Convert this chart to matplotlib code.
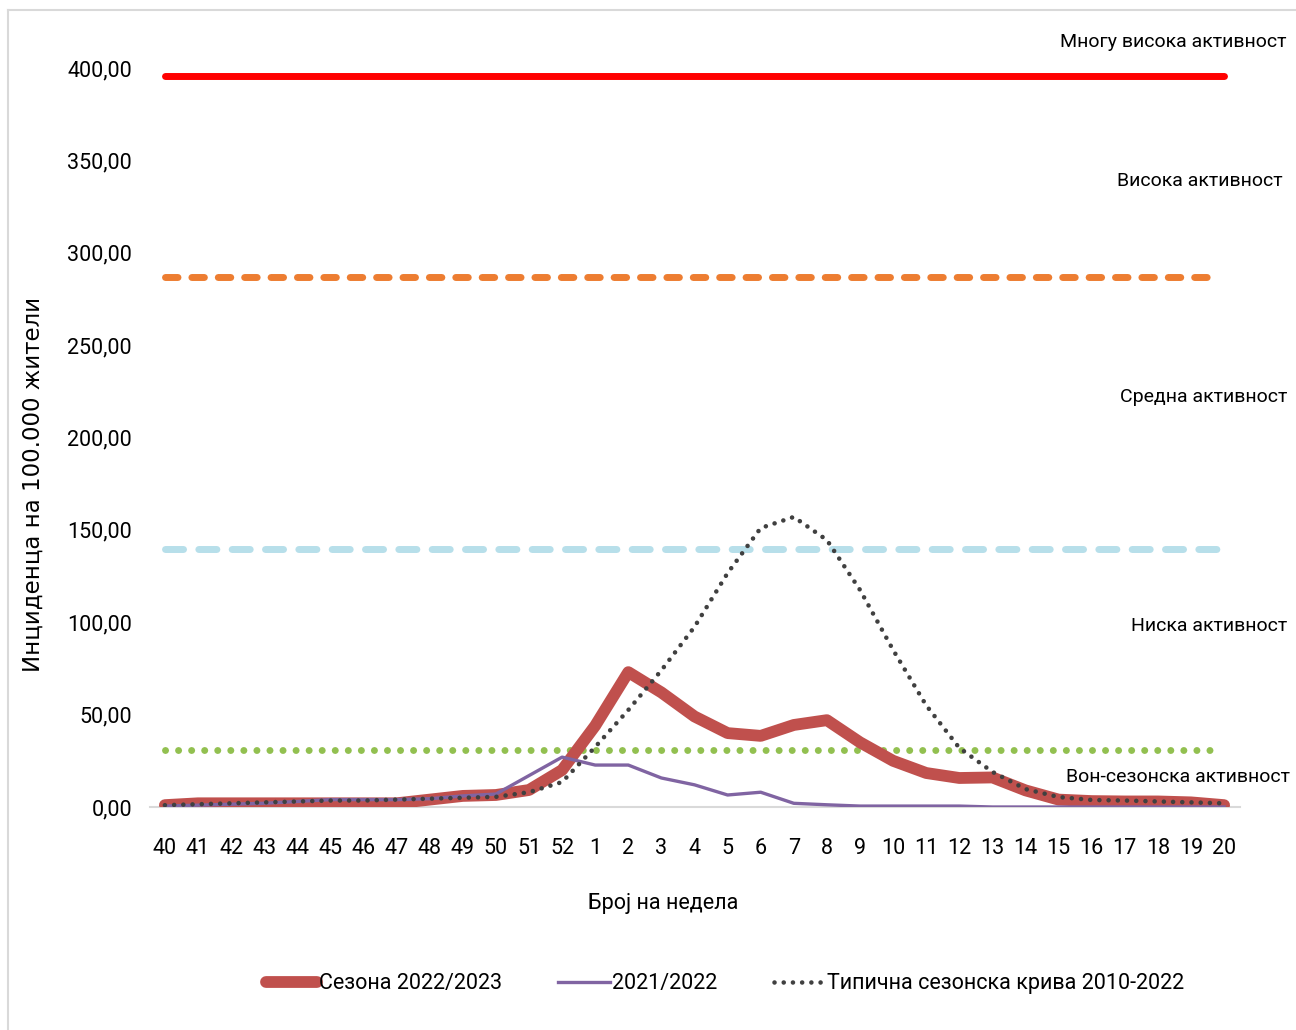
import matplotlib.pyplot as plt
from matplotlib.lines import Line2D

# ---------------- Податоци ----------------
weeks = ["40", "41", "42", "43", "44", "45", "46", "47", "48", "49", "50", "51", "52",
         "1", "2", "3", "4", "5", "6", "7", "8", "9", "10", "11", "12", "13",
         "14", "15", "16", "17", "18", "19", "20"]

season_2022 = [1, 2, 2, 2, 2, 2, 2, 2, 4, 6, 6.5, 9.2, 20,
               44, 73, 62, 49, 40, 38.5, 44.4, 47, 35, 25, 18.4, 15.7, 16,
               9, 4, 3.2, 3, 3, 2.5, 1]

season_2021 = [0.5, 1, 1.5, 2, 3, 4, 4, 4, 4.5, 6, 7, 17, 27,
               22.7, 22.7, 15.7, 12, 6.5, 8, 2, 1.2, 0.5, 0.5, 0.5, 0.5, 0,
               0, 0, 0, 0, 0, 0, 0]

typical = [1, 1.5, 2, 2.5, 3, 3.5, 3.5, 4, 4.5, 5, 5.5, 8, 13.5,
           32.5, 52.5, 74, 97.5, 126.6, 151, 157, 144.5, 117.5, 85, 55, 32, 19,
           9.7, 5.4, 3.8, 3.5, 3, 2.5, 2]

thr_very_high = 395.7
thr_high = 286.9
thr_medium = 139.6
thr_low = 30.9

level_labels = ["Многу висока активност", "Висока активност", "Средна активност",
                "Ниска активност", "Вон-сезонска активност"]
level_label_y = [414, 339, 222, 98, 16]

yticks = [0, 50, 100, 150, 200, 250, 300, 350, 400]

# ---------------- Цртање ----------------
plt.rcParams['font.family'] = ['Roboto', 'DejaVu Sans']
FS = 15.5

W, H = 1296, 1030
L, R, B, T = 150, 1240, 807, 68   # рабови на оските во пиксели
fig = plt.figure(figsize=(W / 100, H / 100), dpi=100)
# рамка (се гледаат само горниот и левиот раб)
fig.add_artist(Line2D([8 / W, 8 / W], [0, 1 - 10 / H], color='#d9d9d9', lw=1.5))
fig.add_artist(Line2D([8 / W, 1], [1 - 10 / H, 1 - 10 / H], color='#d9d9d9', lw=1.5))

ax = fig.add_axes([L / W, 1 - B / H, (R - L) / W, (B - T) / H])
x = list(range(len(weeks)))
n = len(weeks) - 1

# прагови
ax.plot([0, n], [thr_very_high] * 2, color='#ff0000', lw=5, solid_capstyle='round')
ax.plot([0, n - 0.2], [thr_high] * 2, color='#ed7d31', lw=5, dashes=(1.8, 2.0),
        dash_capstyle='round')
ax.plot([0, n - 0.2], [thr_medium] * 2, color='#b7dfea', lw=5, dashes=(2.6, 2.2),
        dash_capstyle='round')
ax.plot([0, n - 0.2], [thr_low] * 2, color='#92c050', lw=5, dashes=(0.01, 1.87),
        dash_capstyle='round')

# серии
ax.plot(x, season_2022, color='#c0504d', lw=8.5, solid_joinstyle='round',
        solid_capstyle='round', label='Сезона 2022/2023', zorder=3)
ax.plot(x, season_2021, color='#8064a2', lw=2.4, label='2021/2022', zorder=4)
ax.plot(x, typical, color='#404040', lw=3.3, dashes=(0.01, 2.0),
        dash_capstyle='round', label='Типична сезонска крива 2010-2022', zorder=5)

# натписи за нивоата на активност (x во пиксели, претворено во оски)
right_x = [1287, 1283, 1287, 1287, 1290]
for txt, yy, rx in zip(level_labels, level_label_y, right_x):
    ax.text((rx - L) / (R - L), yy, txt, transform=ax.get_yaxis_transform(),
            fontsize=14, ha='right', va='center', clip_on=False)

ax.set_xlim(-0.45, n + 0.48)
ax.set_ylim(0, 400)
ax.set_xticks(x)
ax.set_xticklabels(weeks, fontsize=FS)
ax.set_yticks(yticks)
ax.set_yticklabels([f'{v:.2f}'.replace('.', ',') for v in yticks], fontsize=FS)
ax.tick_params(axis='x', length=0, pad=22)
ax.tick_params(axis='y', length=0, pad=13)
for s in ['top', 'right', 'left']:
    ax.spines[s].set_visible(False)
ax.spines['bottom'].set_color('#d9d9d9')
ax.spines['bottom'].set_linewidth(1.5)

ax.set_xlabel('Број на недела', fontsize=FS)
ax.xaxis.set_label_coords((663 - L) / (R - L), -(904 - B) / (B - T))
ax.xaxis.label.set_va('center')
ax.set_ylabel('Инциденца на 100.000 жители', fontsize=16.5, family='DejaVu Sans')
ax.yaxis.set_label_coords(-(L - 33) / (R - L), (B - 484) / (B - T))
ax.yaxis.label.set_va('center')

fig.legend(loc='center', bbox_to_anchor=(725 / W, 1 - 984 / H), ncol=3, frameon=False,
           fontsize=FS, handlelength=2.4, columnspacing=2.6, handletextpad=0.1)

plt.savefig('out.png', dpi=100)
